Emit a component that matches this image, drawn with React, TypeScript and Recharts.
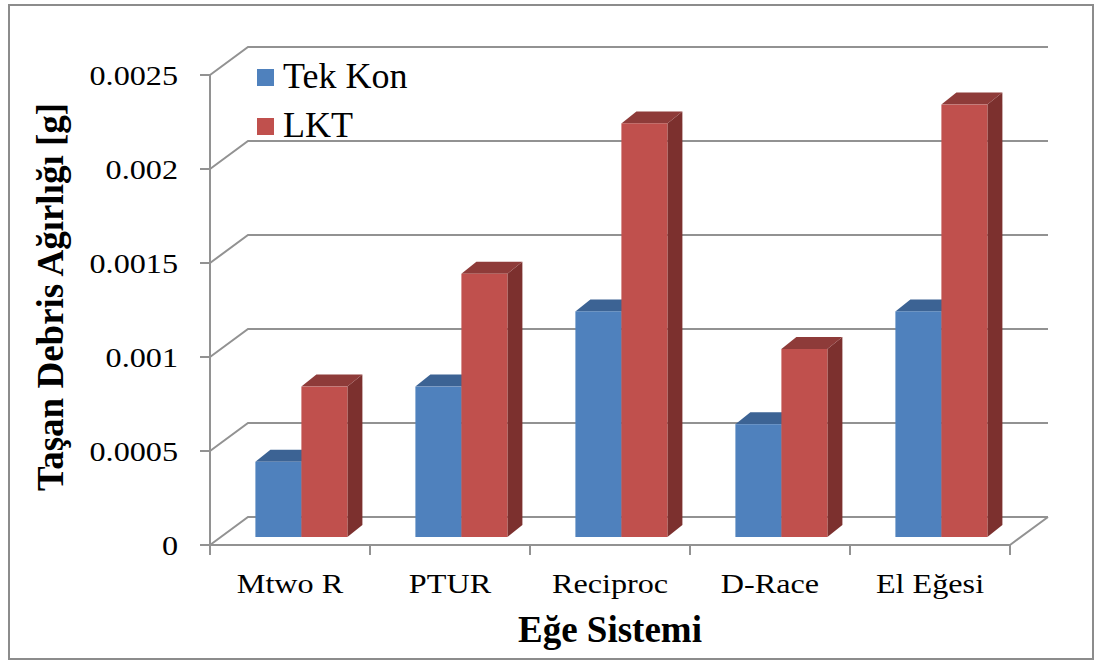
import React from "react";
import { BarChart, Bar, XAxis, YAxis, CartesianGrid, Customized } from "recharts";

const categories = ["Mtwo R", "PTUR", "Reciproc", "D-Race", "El Eğesi"];
const tekKon = [0.0004, 0.0008, 0.0012, 0.0006, 0.0012];
const lkt = [0.0008, 0.0014, 0.0022, 0.001, 0.0023];
const yTicks = [0, 0.0005, 0.001, 0.0015, 0.002, 0.0025];
const yTickLabels = ["0", "0.0005", "0.001", "0.0015", "0.002", "0.0025"];
const seriesNames = ["Tek Kon", "LKT"];

const data = categories.map((name, i) => ({ name, tekKon: tekKon[i], lkt: lkt[i] }));

const FONT = "Liberation Serif";
const GRID = "#929292";
const PLOT_BOTTOM = 545;
const BACK_X = 38;
const BACK_Y = 28;
// bars stand a little behind the front plane
const BAR_X = 11;
const BAR_Y = -8;
const DEPTH_X = 15;
const DEPTH_Y = 12;

const COLORS = {
  tekKon: { front: "#4f81bd", top: "#3c6394", side: "#385d8a" },
  lkt: { front: "#c0504d", top: "#8e3b39", side: "#7c302e" },
};

function WallLine(p: any) {
  const { x1, y1, x2 } = p;
  let d = `M${x1},${y1} L${x1 + BACK_X},${y1 - BACK_Y} L${x2 + BACK_X},${y1 - BACK_Y}`;
  if (Math.abs(y1 - PLOT_BOTTOM) < 1) {
    d += ` M${x2},${y1} L${x2 + BACK_X},${y1 - BACK_Y}`;
    const n = categories.length;
    for (let k = 0; k <= n; k++) {
      const x = x1 + (k * (x2 - x1)) / n;
      d += ` M${x},${y1} L${x},${y1 + 10}`;
    }
  }
  return <path key={p.key} d={d} fill="none" stroke={GRID} strokeWidth={2} />;
}

function Bar3D(props: any) {
  const { x, y, width, height, c } = props;
  if (!height || height <= 0) return null;
  const fx = x + BAR_X;
  const fy = y + BAR_Y;
  const top = `${fx},${fy} ${fx + DEPTH_X},${fy - DEPTH_Y} ${fx + width + DEPTH_X},${fy - DEPTH_Y} ${fx + width},${fy}`;
  const side = `${fx + width},${fy} ${fx + width + DEPTH_X},${fy - DEPTH_Y} ${fx + width + DEPTH_X},${fy + height - DEPTH_Y} ${fx + width},${fy + height}`;
  return (
    <g>
      <polygon points={side} fill={c.side} />
      <polygon points={top} fill={c.top} />
      <rect x={fx} y={fy} width={width} height={height} fill={c.front} />
    </g>
  );
}

function YTick(props: any) {
  const { x, y, payload } = props;
  const i = yTicks.indexOf(payload.value);
  return (
    <g transform={`translate(${x},${y})`}>
      <text transform="scale(1.15,1)" textAnchor="end" dy="0.35em" fontSize={28} fontFamily={FONT} fill="#000">
        {i >= 0 ? yTickLabels[i] : payload.value}
      </text>
    </g>
  );
}

function XTick(props: any) {
  const { x, y, payload } = props;
  return (
    <g transform={`translate(${x},${y})`}>
      <text transform="scale(1.15,1)" textAnchor="middle" dy={18} fontSize={28} fontFamily={FONT} fill="#000">
        {payload.value}
      </text>
    </g>
  );
}

// legend and axis titles, drawn in the chart's svg
function Annotations() {
  const cols = [COLORS.tekKon.front, COLORS.lkt.front];
  return (
    <g fontFamily={FONT} fill="#000">
      {seriesNames.map((s, i) => (
        <g key={s} transform={`translate(257,${69 + i * 49})`}>
          <rect x={0} y={0} width={17} height={17} fill={cols[i]} />
          <text x={26} y={19} fontSize={36} fontFamily={FONT} fill="#000">
            {s}
          </text>
        </g>
      ))}
      <text x={610} y={642} textAnchor="middle" fontSize={37} fontWeight="bold">
        Eğe Sistemi
      </text>
      <text transform="translate(63,297) rotate(-90)" textAnchor="middle" fontSize={37} fontWeight="bold">
        Taşan Debris Ağırlığı [g]
      </text>
    </g>
  );
}

export default function App() {
  return (
    <div style={{ position: "fixed", left: 0, top: 0, width: 1096, height: 663, background: "#fff" }}>
      <div
        style={{
          position: "absolute",
          left: 8,
          top: 4,
          width: 1082,
          height: 652,
          border: "2px solid #8c8c8c",
        }}
      />
      <BarChart
        width={1096}
        height={663}
        data={data}
        margin={{ top: 75, right: 86, bottom: 58, left: 150 }}
        barCategoryGap="21.5%"
        barGap={0}
      >
        <CartesianGrid vertical={false} horizontal={(p: any) => <WallLine {...p} />} />
        <XAxis
          dataKey="name"
          height={60}
          axisLine={{ stroke: GRID, strokeWidth: 2 }}
          tickLine={false}
          tickSize={0}
          tickMargin={30}
          tick={<XTick />}
          interval={0}
        />
        <YAxis
          width={60}
          domain={[0, 0.0025]}
          ticks={yTicks}
          axisLine={{ stroke: GRID, strokeWidth: 2 }}
          tickLine={{ stroke: GRID, strokeWidth: 2 }}
          tickSize={10}
          tickMargin={22}
          tick={<YTick />}
        />
        <Bar dataKey="tekKon" name={seriesNames[0]} isAnimationActive={false} shape={(p: any) => <Bar3D {...p} c={COLORS.tekKon} />} />
        <Bar dataKey="lkt" name={seriesNames[1]} isAnimationActive={false} shape={(p: any) => <Bar3D {...p} c={COLORS.lkt} />} />
        <Customized component={<Annotations />} />
      </BarChart>
    </div>
  );
}
